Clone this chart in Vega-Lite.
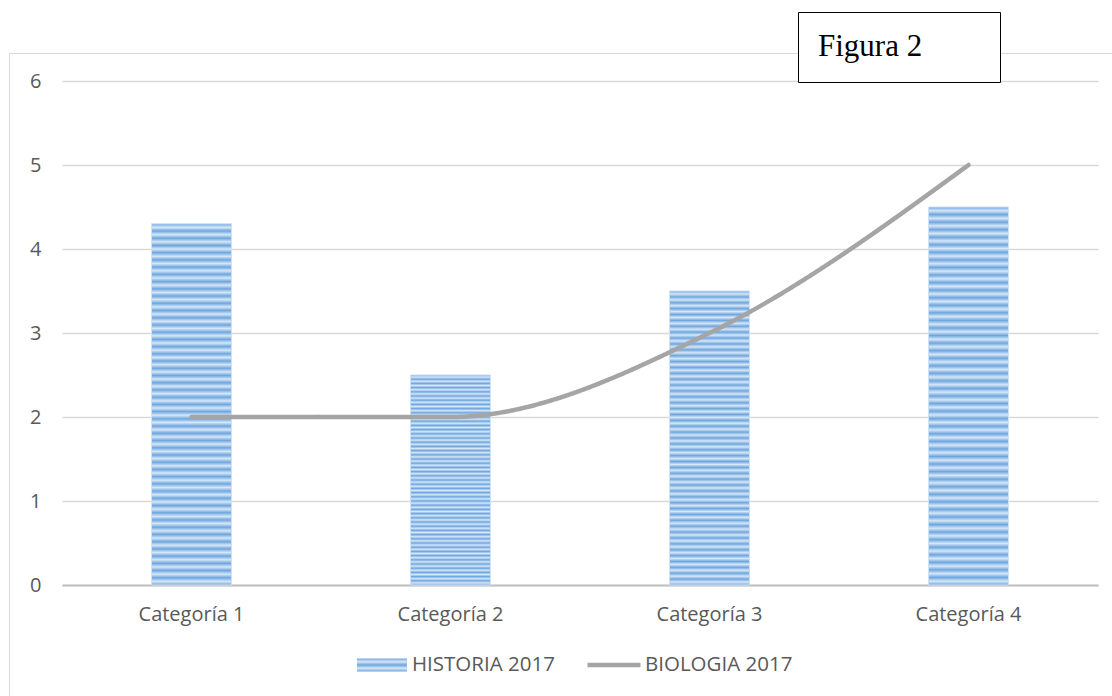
{
  "$schema": "https://vega.github.io/schema/vega-lite/v6.json",
  "width": 1036,
  "height": 504,
  "autosize": {"type": "none"},
  "padding": {"left": 62, "top": 81, "right": 14, "bottom": 111},
  "background": "white",
  "data": {
    "values": [
      {"cat": "Categoría 1", "historia": 4.3, "biologia": 2},
      {"cat": "Categoría 2", "historia": 2.5, "biologia": 2},
      {"cat": "Categoría 3", "historia": 3.5, "biologia": 3},
      {"cat": "Categoría 4", "historia": 4.5, "biologia": 5}
    ]
  },
  "encoding": {
    "x": {
      "field": "cat",
      "type": "nominal",
      "sort": null,
      "scale": {"paddingInner": 0.691, "paddingOuter": 0.3455},
      "axis": {
        "title": null,
        "labelAngle": 0,
        "labelFont": "Open Sans",
        "labelFontSize": 20,
        "labelColor": "#595959",
        "labelPadding": 19,
        "ticks": false,
        "domainColor": "#bfbfbf",
        "domainWidth": 2,
        "grid": false
      }
    }
  },
  "layer": [
    {
      "mark": {
        "type": "bar",
        "stroke": "#cfe1f5",
        "strokeWidth": 1,
        "fill": {
          "gradient": "linear", "x1": 0, "y1": 0, "x2": 0, "y2": 1,
          "stops": [
            {"offset": 0.00, "color": "#6ea6de"}, {"offset": 0.01, "color": "#d6e7f8"},
            {"offset": 0.02, "color": "#6ea6de"}, {"offset": 0.03, "color": "#d6e7f8"},
            {"offset": 0.04, "color": "#6ea6de"}, {"offset": 0.05, "color": "#d6e7f8"},
            {"offset": 0.06, "color": "#6ea6de"}, {"offset": 0.07, "color": "#d6e7f8"},
            {"offset": 0.08, "color": "#6ea6de"}, {"offset": 0.09, "color": "#d6e7f8"},
            {"offset": 0.10, "color": "#6ea6de"}, {"offset": 0.11, "color": "#d6e7f8"},
            {"offset": 0.12, "color": "#6ea6de"}, {"offset": 0.13, "color": "#d6e7f8"},
            {"offset": 0.14, "color": "#6ea6de"}, {"offset": 0.15, "color": "#d6e7f8"},
            {"offset": 0.16, "color": "#6ea6de"}, {"offset": 0.17, "color": "#d6e7f8"},
            {"offset": 0.18, "color": "#6ea6de"}, {"offset": 0.19, "color": "#d6e7f8"},
            {"offset": 0.20, "color": "#6ea6de"}, {"offset": 0.21, "color": "#d6e7f8"},
            {"offset": 0.22, "color": "#6ea6de"}, {"offset": 0.23, "color": "#d6e7f8"},
            {"offset": 0.24, "color": "#6ea6de"}, {"offset": 0.25, "color": "#d6e7f8"},
            {"offset": 0.26, "color": "#6ea6de"}, {"offset": 0.27, "color": "#d6e7f8"},
            {"offset": 0.28, "color": "#6ea6de"}, {"offset": 0.29, "color": "#d6e7f8"},
            {"offset": 0.30, "color": "#6ea6de"}, {"offset": 0.31, "color": "#d6e7f8"},
            {"offset": 0.32, "color": "#6ea6de"}, {"offset": 0.33, "color": "#d6e7f8"},
            {"offset": 0.34, "color": "#6ea6de"}, {"offset": 0.35, "color": "#d6e7f8"},
            {"offset": 0.36, "color": "#6ea6de"}, {"offset": 0.37, "color": "#d6e7f8"},
            {"offset": 0.38, "color": "#6ea6de"}, {"offset": 0.39, "color": "#d6e7f8"},
            {"offset": 0.40, "color": "#6ea6de"}, {"offset": 0.41, "color": "#d6e7f8"},
            {"offset": 0.42, "color": "#6ea6de"}, {"offset": 0.43, "color": "#d6e7f8"},
            {"offset": 0.44, "color": "#6ea6de"}, {"offset": 0.45, "color": "#d6e7f8"},
            {"offset": 0.46, "color": "#6ea6de"}, {"offset": 0.47, "color": "#d6e7f8"},
            {"offset": 0.48, "color": "#6ea6de"}, {"offset": 0.49, "color": "#d6e7f8"},
            {"offset": 0.50, "color": "#6ea6de"}, {"offset": 0.51, "color": "#d6e7f8"},
            {"offset": 0.52, "color": "#6ea6de"}, {"offset": 0.53, "color": "#d6e7f8"},
            {"offset": 0.54, "color": "#6ea6de"}, {"offset": 0.55, "color": "#d6e7f8"},
            {"offset": 0.56, "color": "#6ea6de"}, {"offset": 0.57, "color": "#d6e7f8"},
            {"offset": 0.58, "color": "#6ea6de"}, {"offset": 0.59, "color": "#d6e7f8"},
            {"offset": 0.60, "color": "#6ea6de"}, {"offset": 0.61, "color": "#d6e7f8"},
            {"offset": 0.62, "color": "#6ea6de"}, {"offset": 0.63, "color": "#d6e7f8"},
            {"offset": 0.64, "color": "#6ea6de"}, {"offset": 0.65, "color": "#d6e7f8"},
            {"offset": 0.66, "color": "#6ea6de"}, {"offset": 0.67, "color": "#d6e7f8"},
            {"offset": 0.68, "color": "#6ea6de"}, {"offset": 0.69, "color": "#d6e7f8"},
            {"offset": 0.70, "color": "#6ea6de"}, {"offset": 0.71, "color": "#d6e7f8"},
            {"offset": 0.72, "color": "#6ea6de"}, {"offset": 0.73, "color": "#d6e7f8"},
            {"offset": 0.74, "color": "#6ea6de"}, {"offset": 0.75, "color": "#d6e7f8"},
            {"offset": 0.76, "color": "#6ea6de"}, {"offset": 0.77, "color": "#d6e7f8"},
            {"offset": 0.78, "color": "#6ea6de"}, {"offset": 0.79, "color": "#d6e7f8"},
            {"offset": 0.80, "color": "#6ea6de"}, {"offset": 0.81, "color": "#d6e7f8"},
            {"offset": 0.82, "color": "#6ea6de"}, {"offset": 0.83, "color": "#d6e7f8"},
            {"offset": 0.84, "color": "#6ea6de"}, {"offset": 0.85, "color": "#d6e7f8"},
            {"offset": 0.86, "color": "#6ea6de"}, {"offset": 0.87, "color": "#d6e7f8"},
            {"offset": 0.88, "color": "#6ea6de"}, {"offset": 0.89, "color": "#d6e7f8"},
            {"offset": 0.90, "color": "#6ea6de"}, {"offset": 0.91, "color": "#d6e7f8"},
            {"offset": 0.92, "color": "#6ea6de"}, {"offset": 0.93, "color": "#d6e7f8"},
            {"offset": 0.94, "color": "#6ea6de"}, {"offset": 0.95, "color": "#d6e7f8"},
            {"offset": 0.96, "color": "#6ea6de"}, {"offset": 0.97, "color": "#d6e7f8"},
            {"offset": 0.98, "color": "#6ea6de"}, {"offset": 0.99, "color": "#d6e7f8"},
            {"offset": 1.00, "color": "#6ea6de"}
          ]
        }
      },
      "encoding": {
        "y": {
          "field": "historia",
          "type": "quantitative",
          "scale": {"domain": [0, 6]},
          "axis": {
            "title": null,
            "values": [0, 1, 2, 3, 4, 5, 6],
            "format": "d",
            "domain": false,
            "ticks": false,
            "gridColor": "#d9d9d9",
            "gridWidth": 1.5,
            "labelFont": "Open Sans",
            "labelFontSize": 20,
            "labelColor": "#595959",
            "labelPadding": 21
          }
        },
        "opacity": {
          "datum": "HISTORIA 2017",
          "type": "nominal",
          "scale": {"range": [1]},
          "legend": {
            "title": null,
            "orient": "none",
            "legendX": 295,
            "legendY": 559,
            "symbolType": "M-1,-0.26H1V0.26H-1Z",
            "symbolSize": 2500,
            "symbolFillColor": "#93bde8",
            "symbolStrokeWidth": 0,
            "symbolOpacity": 1,
            "labelOffset": 5
          }
        }
      }
    },
    {
      "mark": {"type": "line", "interpolate": "monotone", "strokeCap": "round"},
      "encoding": {
        "y": {"field": "biologia", "type": "quantitative"},
        "stroke": {
          "datum": "BIOLOGIA 2017",
          "type": "nominal",
          "scale": {"range": ["#a5a5a5"]},
          "legend": {
            "title": null,
            "orient": "none",
            "legendX": 523,
            "legendY": 555,
            "symbolType": "stroke",
            "symbolSize": 2809,
            "symbolStrokeWidth": 4.5,
            "labelOffset": 2
          }
        },
        "strokeDash": {
          "datum": " ",
          "type": "nominal",
          "scale": {"range": [[1, 0]]},
          "legend": {
            "title": null,
            "orient": "none",
            "legendX": -53,
            "legendY": -28,
            "padding": 0,
            "strokeColor": "#d9d9d9",
            "symbolType": "M-2,-1.2H2V1.2H-2Z",
            "symbolSize": 1254400,
            "symbolOpacity": 0,
            "symbolStrokeColor": "transparent",
            "symbolFillColor": "transparent",
            "labelOpacity": 0,
            "labelFontSize": 1,
            "labelOffset": 0
          }
        },
        "strokeWidth": {
          "datum": "Figura 2",
          "type": "nominal",
          "scale": {"type": "ordinal", "range": [4.5]},
          "legend": {
            "title": "Figura 2",
            "orient": "none",
            "legendX": 736,
            "legendY": -69,
            "titleOrient": "left",
            "titleFont": "Liberation Serif",
            "titleFontSize": 31,
            "titleFontWeight": "normal",
            "titleColor": "#000000",
            "titlePadding": 10,
            "titleLimit": 300,
            "padding": 20,
            "strokeColor": "#000000",
            "fillColor": "#ffffff",
            "symbolType": "M-1,-0.44H1V0.44H-1Z",
            "symbolSize": 1444,
            "symbolOpacity": 0,
            "symbolStrokeColor": "transparent",
            "symbolFillColor": "transparent",
            "labelOpacity": 0,
            "labelFontSize": 1,
            "labelOffset": 0
          }
        }
      }
    }
  ],
  "resolve": {"scale": {"stroke": "independent"}},
  "config": {
    "view": {"stroke": null},
    "legend": {
      "direction": "horizontal",
      "labelFont": "Open Sans",
      "labelFontSize": 20.5,
      "labelColor": "#595959",
      "padding": 0
    }
  }
}
